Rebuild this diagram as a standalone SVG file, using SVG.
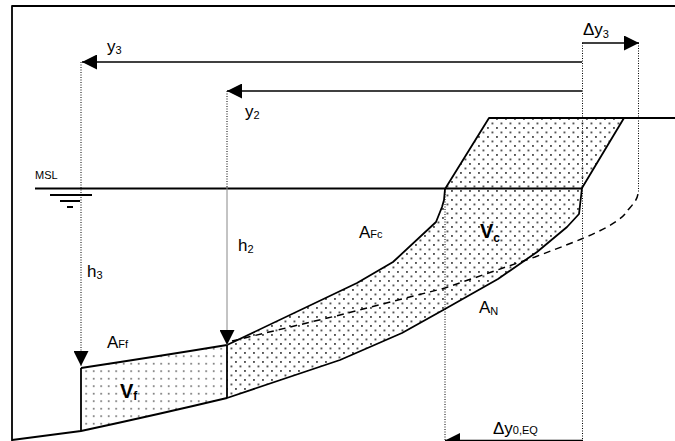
<svg xmlns="http://www.w3.org/2000/svg" width="675" height="441" viewBox="0 0 675 441">
<style>
text{font-family:"Liberation Sans",Arial,sans-serif;fill:#000}
.lbl{font-size:17px}
.sub{font-size:11px}
.bold{font-weight:bold}
.thick{fill:none;stroke:#000;stroke-width:1.8;stroke-linejoin:round}
.arr{fill:none;stroke:#000;stroke-width:1.5}
.dot{fill:none;stroke:#000;stroke-width:1;stroke-dasharray:1,1.5}
.dash{fill:none;stroke:#000;stroke-width:1.5;stroke-dasharray:7,5}
</style>
<defs>
<marker id="ah" markerUnits="userSpaceOnUse" markerWidth="15" markerHeight="15" refX="15" refY="7.5" orient="auto">
<path d="M0,0 L15,7.5 L0,15 Z" fill="#000"/>
</marker>
<pattern id="fine" width="7.5" height="7.5" patternUnits="userSpaceOnUse">
<rect x="3" y="3" width="1.4" height="1.4" fill="#333"/>
</pattern>
<pattern id="dense" width="9" height="9" patternUnits="userSpaceOnUse">
<rect x="1" y="1" width="1.9" height="1.9" fill="#555"/>
<rect x="5.5" y="5.5" width="1.9" height="1.9" fill="#555"/>
</pattern>
</defs>

<g id="frame">
<path class="thick" d="M12,441 L12,6 L675,6" stroke-width="2"/>
</g>

<g id="fills">
<path id="Vf-area" d="M81,368 Q160,356 227,345 L227,398 Q160,414 81,431 Z" fill="url(#fine)"/>
<path id="Vc-area" d="M227,345 L357,283 L393,262 L436,222 L442,207 L444,200 L445,189 L489,118 L624,118 L582,188 L579,214 L567,227 L537,252 L498,279 L445,309 L402,333 L340,360 L227,398 Z" fill="url(#dense)"/>
</g>

<g id="profile">
<path class="thick" d="M12,440 L81,431 Q160,414 227,398 L340,360 L402,333 L445,309 L498,279 L537,252 L567,227 L579,214 L582,188 L624,118"/>
<path class="thick" d="M227,345 L357,283 L393,262 L436,222 L442,207 L444,200 L445,189 L489,118 L675,118"/>
<path class="thick" d="M81,368 Q160,356 227,345"/>
<path class="thick" d="M81,368 L81,431"/>
<path class="thick" d="M227,345 L227,398"/>
<path class="dash" d="M232,341 L340,315 L445,288 L535,257 C585,238 618,226 628,210 C634,203 637,200 638,194"/>
</g>

<g id="msl">
<path class="thick" d="M35,188.5 L582,188.5" stroke-width="1.6"/>
<path class="thick" d="M50,195 L92,195 M60,201 L80,201 M67,207 L73,207" stroke-width="1.3"/>
<text x="35" y="179" class="sub">MSL</text>
</g>

<g id="connectors">
<path class="arr" d="M582,62 L82,62" marker-end="url(#ah)"/>
<path class="arr" d="M582,91 L227,91" marker-end="url(#ah)"/>
<path class="arr" d="M582,43 L639,43" marker-end="url(#ah)"/>
<path class="arr" d="M583,440.5 L445,440.5" marker-end="url(#ah)"/>
<path class="dot" d="M81,62 L81,366" marker-end="url(#ah)"/>
<path class="dot" d="M227,91 L227,188"/>
<path d="M227,188 L227,345" fill="none" stroke="#888" stroke-width="1" marker-end="url(#ah)"/>
<path class="dot" d="M582.5,43 L582.5,441"/>
<path class="dot" d="M638.5,43 L638.5,193"/>
<path class="dot" d="M445,189 L445,441"/>
</g>

<g id="labels">
<text x="107" y="51.5" class="lbl">y<tspan class="sub" dy="2.5">3</tspan></text>
<text x="245" y="116.5" class="lbl">y<tspan class="sub" dy="2.5">2</tspan></text>
<text x="583" y="35" class="lbl">Δy<tspan class="sub" dy="2.5">3</tspan></text>
<text x="87" y="277" class="lbl">h<tspan class="sub" dy="2">3</tspan></text>
<text x="238" y="251" class="lbl">h<tspan class="sub" dy="2">2</tspan></text>
<text x="107" y="347.5" class="lbl">A<tspan class="sub">Ff</tspan></text>
<text x="359" y="238" class="lbl">A<tspan class="sub">Fc</tspan></text>
<text x="479" y="313" class="lbl">A<tspan class="sub" dy="2">N</tspan></text>
<text x="493" y="433.5" class="lbl">Δy<tspan class="sub">0,EQ</tspan></text>
<text x="120" y="398" font-size="20" class="bold">V<tspan font-size="12" dy="2">f</tspan></text>
<text x="480" y="238" font-size="20" class="bold">V<tspan font-size="12" dy="4">c</tspan></text>
</g>
</svg>
